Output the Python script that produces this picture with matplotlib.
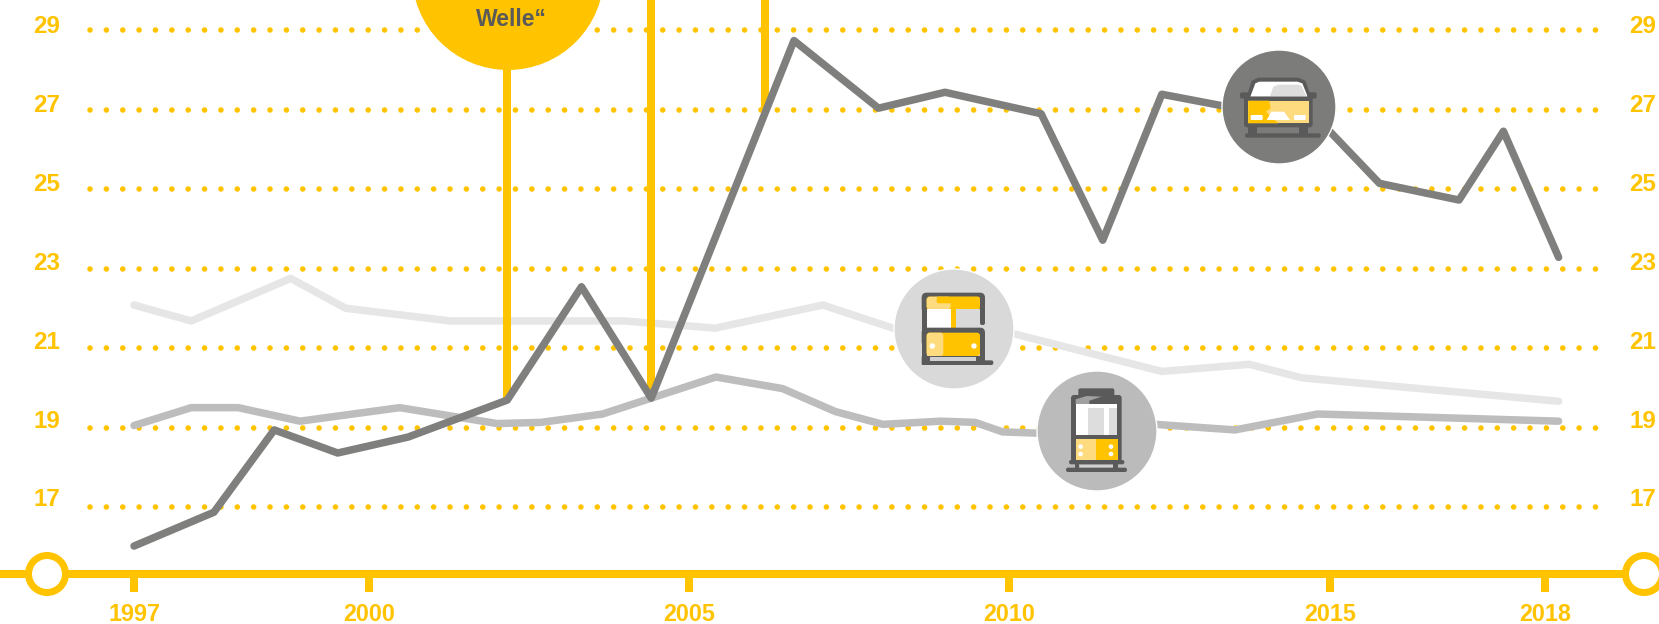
import numpy as np
import matplotlib
matplotlib.use("Agg")
import matplotlib.pyplot as plt
from matplotlib.patches import Circle, FancyBboxPatch, Polygon, Rectangle

# values
dark_years = [1997.0, 1998.02, 1998.79, 1999.6, 2000.61, 2002.16, 2003.32, 2004.41, 2006.64, 2007.96,
              2009.0, 2010.5, 2011.46, 2012.38, 2013.65, 2014.97, 2015.69, 2016.8, 2017.42, 2018.19]
dark_vals = [16.03, 16.88, 18.95, 18.37, 18.77, 19.70, 22.55, 19.75, 28.74, 27.04,
             27.44, 26.9, 23.72, 27.39, 27.0, 26.5, 25.15, 24.73, 26.46, 23.29]

light_years = [1997.0, 1997.73, 1999.0, 1999.7, 2001.27, 2003.98, 2005.41, 2007.09, 2008.3, 2010.07,
               2012.38, 2013.74, 2014.56, 2018.19]
light_vals = [22.09, 21.69, 22.76, 22.01, 21.69, 21.69, 21.51, 22.09, 21.45, 21.37,
              20.42, 20.60, 20.26, 19.67]

mid_years = [1997.0, 1997.73, 1998.33, 1999.12, 2000.48, 2002.0, 2002.69, 2003.65, 2005.42, 2006.46,
             2007.29, 2008.03, 2008.94, 2009.47, 2009.9, 2010.76, 2012.28, 2013.52, 2014.81, 2018.19]
mid_vals = [19.06, 19.51, 19.51, 19.17, 19.51, 19.11, 19.14, 19.35, 20.28, 19.99,
            19.41, 19.09, 19.17, 19.14, 18.90, 18.85, 19.09, 18.95, 19.35, 19.17]

x_ticks = [1997, 2000, 2005, 2010, 2015, 2018]
y_ticks = [17, 19, 21, 23, 25, 27, 29]
stem3 = (2006.18, 27.0)

GOLD = "#FFC300"
LIGHTGOLD = "#FFDB80"
INK = "#5A5A5A"
PX = 0.72  # one pixel in points at dpi 100

plt.rcParams["font.family"] = ["Liberation Sans", "DejaVu Sans"]
plt.rcParams["lines.scale_dashes"] = False

# the year axis is not even in the picture, so it gets a piecewise scale
knot_years = [1995.28, 1997, 2000, 2005, 2010, 2015, 2018, 2019.59]
knot_px = [0, 134, 369, 689, 1009, 1330, 1545, 1659]


def forward(v):
    return np.interp(v, knot_years, knot_px)


def inverse(v):
    return np.interp(v, knot_px, knot_years)


fig = plt.figure(figsize=(16.59, 6.24), dpi=100)
ax = fig.add_axes([0, 0, 1, 1], zorder=1)
ax.patch.set_alpha(0)
ax.set_xscale("function", functions=(forward, inverse))
ax.set_xlim(knot_years[0], knot_years[-1])
ax.set_ylim(14.07, 29.76)

for s in ["top", "left", "right"]:
    ax.spines[s].set_visible(False)
ax.spines["bottom"].set_position(("data", 15.32))
ax.spines["bottom"].set_color(GOLD)
ax.spines["bottom"].set_linewidth(8 * PX)
ax.set_xticks(x_ticks)
ax.set_xticklabels([str(y) for y in x_ticks])
ax.tick_params(axis="x", length=18 * PX, width=8 * PX, color=GOLD, labelcolor=GOLD,
               labelsize=16.8, pad=8)
for lab in ax.get_xticklabels():
    lab.set_fontweight("bold")
ax.minorticks_off()
ax.set_yticks([])

# dotted rows, start and end are in axes fractions
for y in y_ticks:
    ax.plot([90 / 1659, 1603 / 1659], [y, y], transform=ax.get_yaxis_transform(), color=GOLD, lw=5.6 * PX,
            linestyle=(0, (0.01, 16.35 * PX)), dash_capstyle="round", zorder=1)
    label_y = y + 0.19 - (y - 17) * 0.0085
    ax.text(47 / 1659, label_y, str(y), transform=ax.get_yaxis_transform(), color=GOLD,
            fontsize=17.4, fontweight="bold", ha="center", va="center")
    ax.text(1643 / 1659, label_y, str(y), transform=ax.get_yaxis_transform(), color=GOLD,
            fontsize=17.4, fontweight="bold", ha="center", va="center")

ax.plot(light_years, light_vals, color="#E6E6E6", lw=7.5 * PX, solid_capstyle="round",
        solid_joinstyle="round", zorder=2)
ax.plot(mid_years, mid_vals, color="#BDBDBD", lw=7.5 * PX, solid_capstyle="round",
        solid_joinstyle="round", zorder=2)

# gold stems coming down from above
for sx, sy in [(dark_years[5], dark_vals[5]), (dark_years[7], dark_vals[7]), stem3]:
    ax.plot([sx, sx], [sy, 31], color=GOLD, lw=8 * PX, solid_capstyle="butt", zorder=3)

ax.plot(dark_years, dark_vals, color="#7F7F7D", lw=7.5 * PX, solid_capstyle="round",
        solid_joinstyle="round", zorder=4)

# overlay in pixel coordinates for the bubble, end rings and icons
deco = fig.add_axes([0, 0, 1, 1], zorder=2)
deco.patch.set_alpha(0)
deco.set_xlim(0, 1659)
deco.set_ylim(624, 0)
deco.axis("off")

deco.add_patch(Circle((508, -26), 96, color=GOLD, lw=0))
deco.text(511, 19, "Welle“", color=INK, fontsize=16.5, fontweight="bold", ha="center", va="center")

for cx in [47, 1644]:
    deco.add_patch(Circle((cx, 574), 18.5, facecolor="white", edgecolor=GOLD, lw=7 * PX))


# icon helpers, coordinates are the ones of a 3x crop with its corner at ox, oy
def box(ox, oy, x0, y0, x1, y1, color, r=0):
    x0, x1 = ox + x0 / 3, ox + x1 / 3
    y0, y1 = oy + y0 / 3, oy + y1 / 3
    if r:
        deco.add_patch(FancyBboxPatch((x0 + r, y0 + r), x1 - x0 - 2 * r, y1 - y0 - 2 * r,
                                      boxstyle="round,pad=%g,rounding_size=%g" % (r, r), fc=color, ec="none"))
    else:
        deco.add_patch(Rectangle((x0, y0), x1 - x0, y1 - y0, fc=color, ec="none"))


def poly(ox, oy, pts, color):
    deco.add_patch(Polygon([(ox + a / 3, oy + b / 3) for a, b in pts], closed=True, fc=color, ec="none"))


def dot(ox, oy, x, y, r=2.7, color="white"):
    deco.add_patch(Circle((ox + x / 3, oy + y / 3), r, fc=color, ec="none"))


# car
ox, oy = 1200, 40
deco.add_patch(Circle((1279, 107), 57, fc="#7C7C7A", ec="white", lw=1))
poly(ox, oy, [(138, 178), (155, 122), (175, 113), (295, 113), (316, 122), (336, 178)], INK)
poly(ox, oy, [(151, 170), (166, 130), (178, 125), (292, 125), (307, 130), (323, 170)], "white")
poly(ox, oy, [(210, 168), (220, 140), (235, 134), (298, 134), (306, 140), (318, 168)], "#DDDDDD")
box(ox, oy, 120, 157, 150, 176, INK, 2)
box(ox, oy, 322, 157, 350, 176, INK, 2)
box(ox, oy, 132, 170, 338, 262, INK, 3)
box(ox, oy, 145, 182, 326, 250, LIGHTGOLD)
poly(ox, oy, [(145, 182), (208, 182), (212, 205), (198, 215), (235, 250), (145, 250)], GOLD)
box(ox, oy, 152, 225, 188, 240, "white", 1)
box(ox, oy, 282, 225, 317, 240, "white", 1)
poly(ox, oy, [(200, 240), (214, 215), (252, 215), (270, 240)], "white")
box(ox, oy, 145, 255, 172, 285, INK)
box(ox, oy, 297, 255, 325, 285, INK)
box(ox, oy, 135, 280, 362, 293, INK, 2)

# bus
ox, oy = 880, 280
deco.add_patch(Circle((954, 329), 60, fc="#D9D9D9", ec="white", lw=1))
box(ox, oy, 125, 38, 315, 100, INK, 5)
box(ox, oy, 125, 60, 140, 255, INK)
box(ox, oy, 300, 60, 315, 135, INK, 2)
box(ox, oy, 140, 50, 300, 90, GOLD, 3)
box(ox, oy, 140, 50, 212, 87, LIGHTGOLD, 3)
box(ox, oy, 170, 50, 300, 70, GOLD, 2)
box(ox, oy, 140, 87, 212, 148, "white")
box(ox, oy, 228, 87, 300, 148, "#D9D9D9")
box(ox, oy, 212, 70, 228, 148, GOLD)
box(ox, oy, 125, 143, 315, 200, INK, 5)
box(ox, oy, 300, 155, 315, 245, INK)
box(ox, oy, 140, 158, 300, 228, GOLD, 3)
box(ox, oy, 140, 158, 190, 228, LIGHTGOLD, 3)
dot(ox, oy, 157, 198)
dot(ox, oy, 282, 198)
box(ox, oy, 125, 228, 315, 255, INK, 1)
box(ox, oy, 150, 231, 288, 242, "#D0D0D0")
box(ox, oy, 300, 241, 340, 255, INK, 2)

# tram
ox, oy = 880, 280
deco.add_patch(Circle((1097, 431), 60, fc="#BBBBBB", ec="white", lw=1))
box(ox, oy, 595, 325, 703, 350, INK, 2)
box(ox, oy, 573, 345, 725, 545, INK, 3)
poly(ox, oy, [(587, 372), (587, 358), (620, 348), (665, 350), (628, 362), (628, 372)], "#A0A0A0")
box(ox, oy, 587, 372, 712, 465, "white")
box(ox, oy, 625, 385, 672, 465, "#DDDDDD")
box(ox, oy, 688, 385, 712, 465, "#DDDDDD")
box(ox, oy, 587, 478, 713, 540, GOLD)
box(ox, oy, 587, 478, 648, 540, LIGHTGOLD)
for dx in [602, 693]:
    dot(ox, oy, dx, 500, 2.3)
    dot(ox, oy, dx, 522, 2.3)
box(ox, oy, 567, 540, 733, 553, INK, 2)
box(ox, oy, 585, 552, 598, 566, INK)
box(ox, oy, 700, 552, 713, 566, INK)
box(ox, oy, 600, 555, 698, 563, "#D0D0D0")
box(ox, oy, 558, 563, 741, 576, INK, 2)

fig.savefig("out.png", dpi=100)
